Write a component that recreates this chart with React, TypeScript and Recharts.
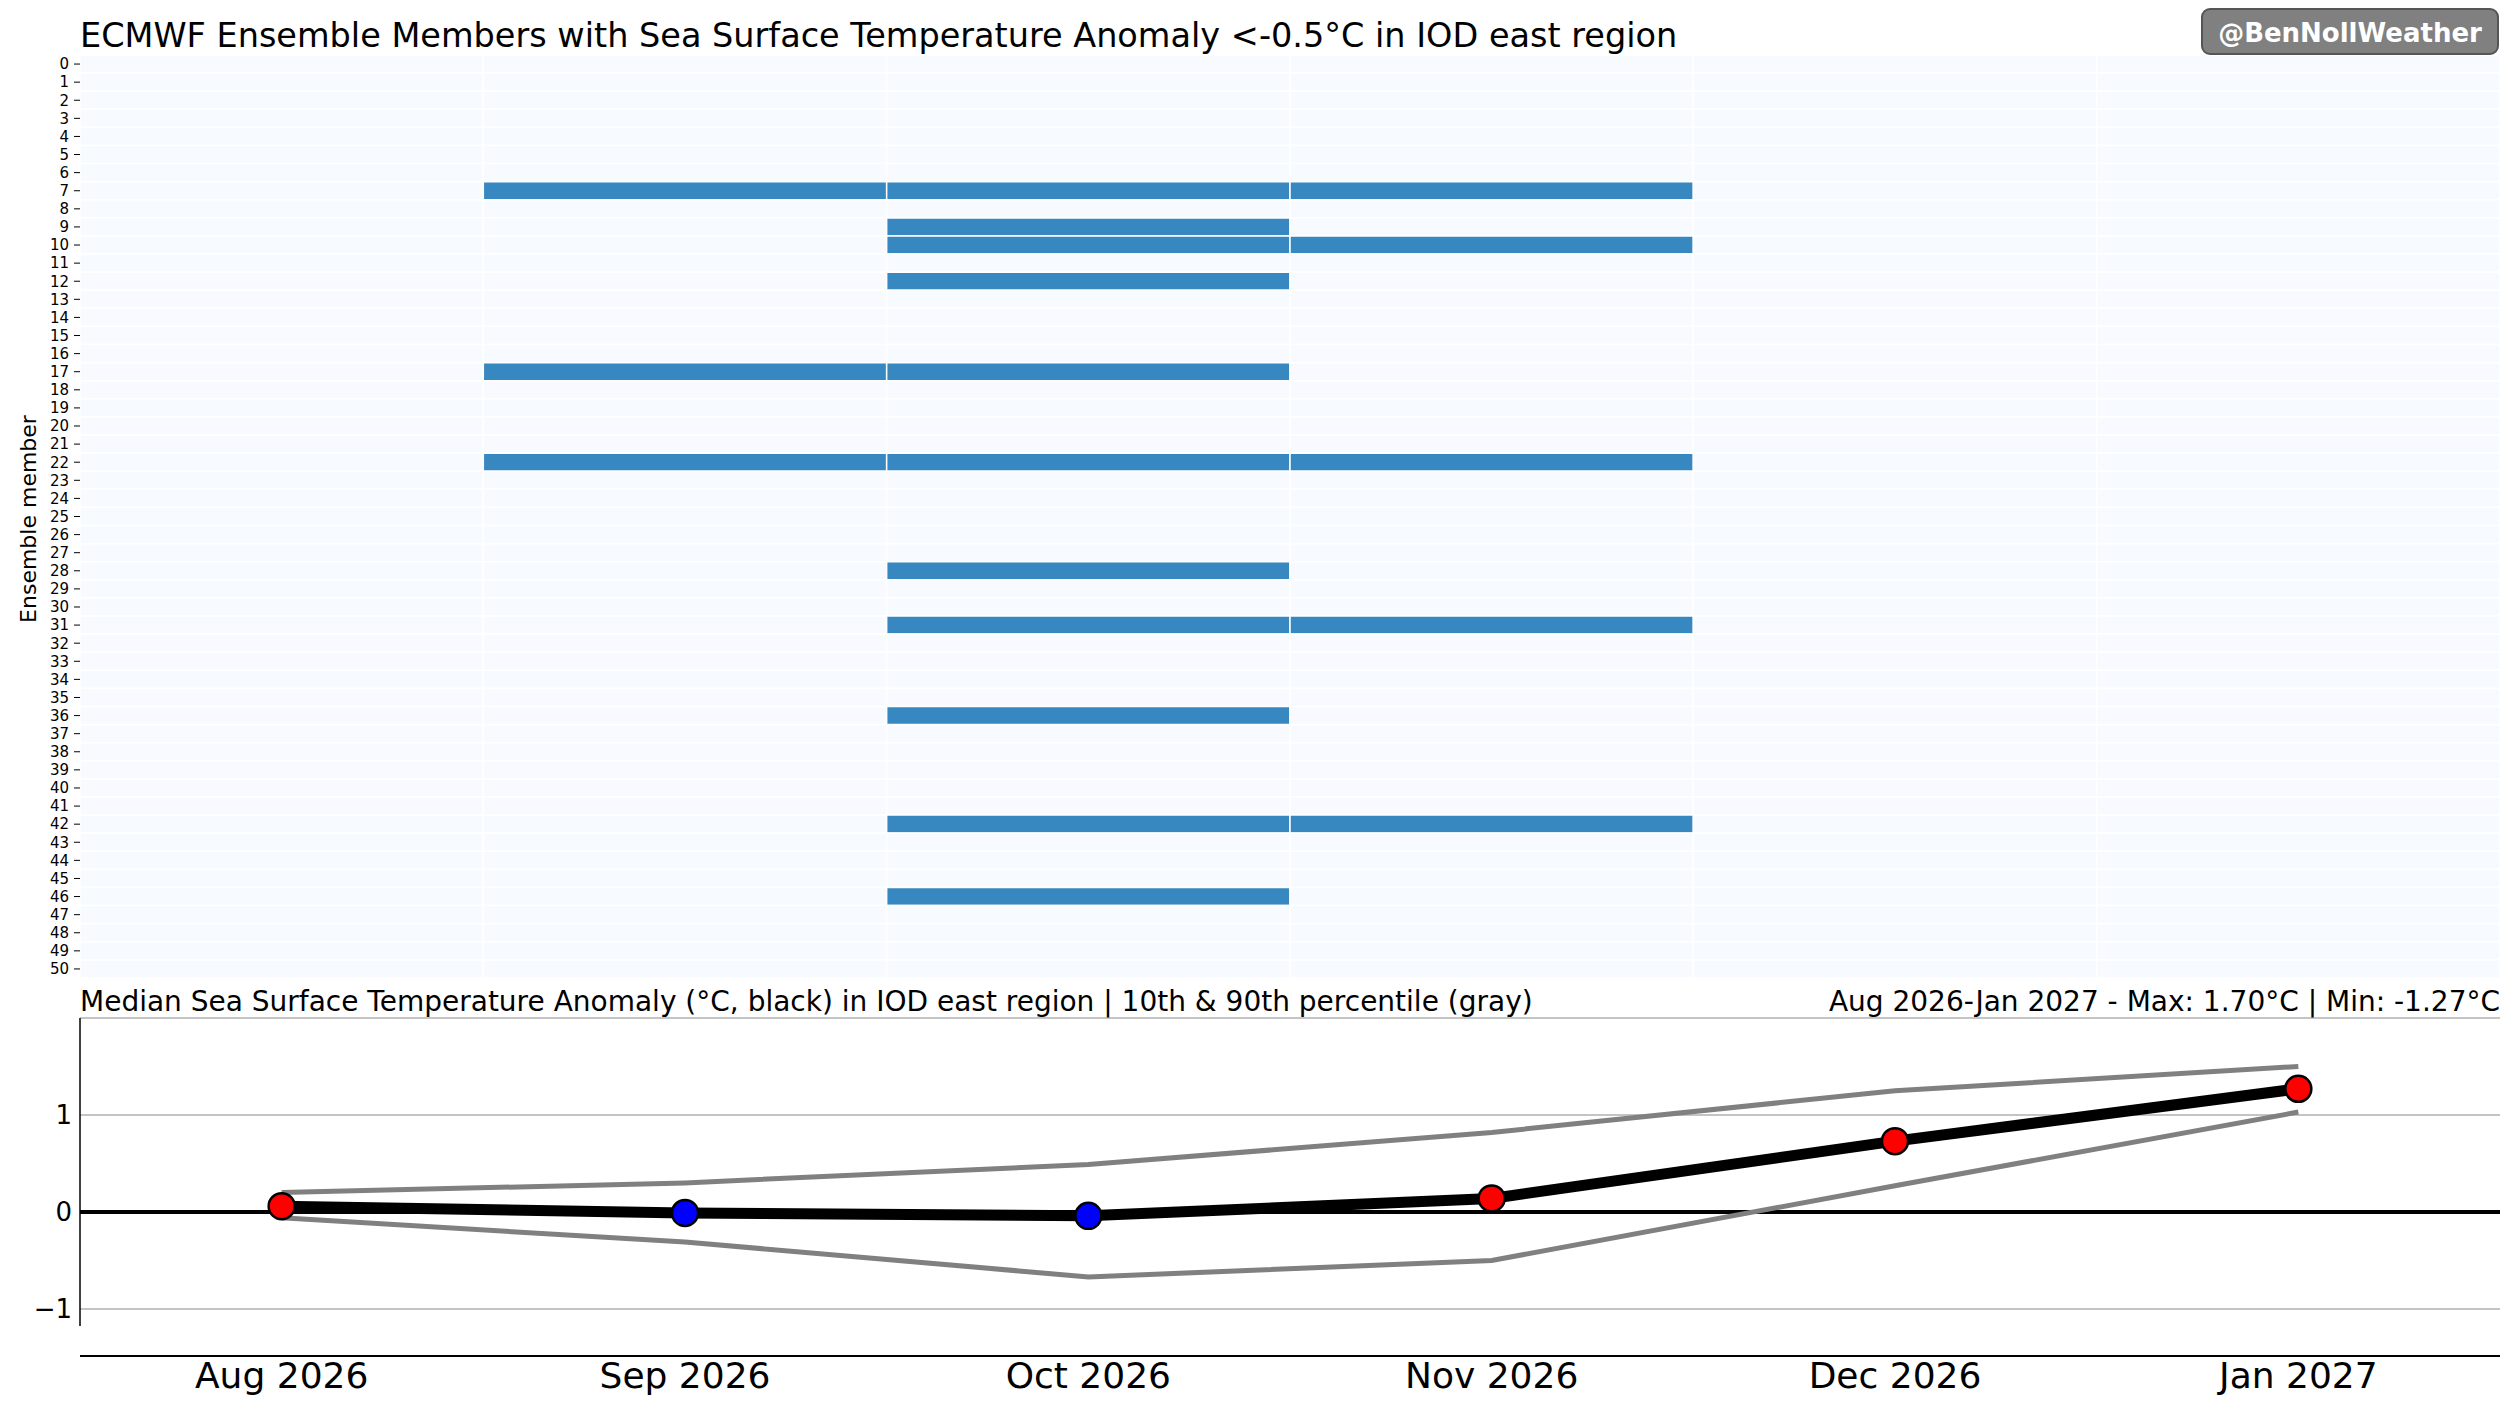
import React from "react";
import {
  BarChart,
  Bar,
  Cell,
  XAxis,
  YAxis,
  LineChart,
  Line,
  CartesianGrid,
  ReferenceLine,
} from "recharts";

// ---- data ----
const months = ["Aug 2026", "Sep 2026", "Oct 2026", "Nov 2026", "Dec 2026", "Jan 2027"];
const memberIds = Array.from({ length: 51 }, (_, i) => i);

// members with anomaly < -0.5°C per month
const belowAug: number[] = [];
const belowSep = [7, 17, 22];
const belowOct = [7, 9, 10, 12, 17, 22, 28, 31, 36, 42, 46];
const belowNov = [7, 10, 22, 31, 42];
const belowDec: number[] = [];
const belowJan: number[] = [];
const belowByMonth = [belowAug, belowSep, belowOct, belowNov, belowDec, belowJan];

const medianVals = [0.06, -0.01, -0.04, 0.14, 0.73, 1.27];
const p10Vals = [-0.06, -0.31, -0.67, -0.5, 0.27, 1.03];
const p90Vals = [0.2, 0.3, 0.49, 0.82, 1.25, 1.5];
const yTicks = [-1, 0, 1];

// ---- derived tables ----
const heatData = memberIds.map((m) => {
  const row: any = { member: m };
  months.forEach((_, j) => {
    row[`m${j}`] = 1;
  });
  return row;
});

const lineData = months.map((label, i) => ({
  x: i,
  label,
  median: medianVals[i],
  p10: p10Vals[i],
  p90: p90Vals[i],
}));

const FONT = "DejaVu Sans";
const BLUE = "#3787c0";
const LIGHT = "#f7fbff";

const MedianDot = (props: any) => {
  const { cx, cy, value, index } = props;
  if (cx == null || cy == null) return <g key={`d${index}`} />;
  return (
    <circle
      key={`d${index}`}
      cx={cx}
      cy={cy}
      r={13}
      fill={value > 0 ? "#ff0000" : "#0000ff"}
      stroke="#000"
      strokeWidth={2.5}
    />
  );
};

export default function App() {
  return (
    <div
      style={{
        position: "absolute",
        left: 0,
        top: 0,
        width: 2506,
        height: 1413,
        background: "#fff",
        fontFamily: FONT,
        overflow: "hidden",
      }}
    >
      {/* Heatmap */}
      <div style={{ position: "absolute", left: 0, top: 0 }}>
        <BarChart
          width={2506}
          height={1000}
          data={heatData}
          layout="vertical"
          margin={{ top: 55, right: 6, left: 0, bottom: 0 }}
          barCategoryGap={0}
          barGap={0}
        >
          <XAxis
            type="number"
            domain={[0, 6]}
            ticks={[0.5, 1.5, 2.5, 3.5, 4.5, 5.5]}
            tick={false}
            tickLine={{ stroke: "#000", strokeWidth: 1.2 }}
            tickSize={12}
            axisLine={false}
            height={22}
            allowDataOverflow
          />
          <YAxis
            type="category"
            dataKey="member"
            width={80}
            interval={0}
            tick={{ fontSize: 15, fill: "#000", fontFamily: FONT }}
            tickLine={{ stroke: "#000", strokeWidth: 1 }}
            tickSize={6}
            tickMargin={5}
            axisLine={false}
          />
          {months.map((_, j) => (
            <Bar
              key={j}
              dataKey={`m${j}`}
              stackId="a"
              isAnimationActive={false}
              stroke="#ffffff"
              strokeWidth={1.5}
            >
              {memberIds.map((m) => (
                <Cell key={m} fill={belowByMonth[j].includes(m) ? BLUE : LIGHT} />
              ))}
            </Bar>
          ))}
        </BarChart>
      </div>

      {/* Median line chart */}
      <div style={{ position: "absolute", left: 0, top: 950 }}>
        <LineChart
          width={2506}
          height={463}
          data={lineData}
          margin={{ top: 68, right: 6, left: 0, bottom: 0 }}
        >
          <CartesianGrid horizontal vertical={false} stroke="#b0b0b0" strokeWidth={1.5} />
          <XAxis
            type="number"
            dataKey="x"
            domain={[-0.5, 5.5]}
            ticks={[0, 1, 2, 3, 4, 5]}
            tickFormatter={(v: number) => months[v]}
            tick={{ fontSize: 36, fill: "#000", fontFamily: FONT }}
            tickLine={false}
            tickSize={0}
            tickMargin={6}
            axisLine={{ stroke: "#000", strokeWidth: 2 }}
            height={57}
            allowDataOverflow
          />
          <YAxis
            type="number"
            domain={[-1.485, 2.0]}
            ticks={yTicks}
            tickFormatter={(v: number) => (v < 0 ? `\u2212${Math.abs(v)}` : `${v}`)}
            tick={{ fontSize: 26, fill: "#000", fontFamily: FONT }}
            tickLine={false}
            tickSize={0}
            tickMargin={8}
            axisLine={false}
            width={80}
            allowDataOverflow
          />
          <ReferenceLine
            segment={[
              { x: -0.5, y: -1.175 },
              { x: -0.5, y: 2.0 },
            ]}
            stroke="#000"
            strokeWidth={1.5}
            ifOverflow="visible"
          />
          <ReferenceLine y={0} stroke="#000" strokeWidth={4} />
          <Line
            type="linear"
            dataKey="p90"
            stroke="#808080"
            strokeWidth={5}
            dot={false}
            isAnimationActive={false}
          />
          <Line
            type="linear"
            dataKey="p10"
            stroke="#808080"
            strokeWidth={5}
            dot={false}
            isAnimationActive={false}
          />
          <Line
            type="linear"
            dataKey="median"
            stroke="#000"
            strokeWidth={11}
            dot={MedianDot}
            activeDot={false}
            isAnimationActive={false}
          />
        </LineChart>
      </div>

      {/* Texts */}
      <svg
        width={2506}
        height={1413}
        style={{ position: "absolute", left: 0, top: 0, pointerEvents: "none" }}
        fontFamily={FONT}
      >
        <text x={80} y={47} fontSize={33.5} fill="#000">
          ECMWF Ensemble Members with Sea Surface Temperature Anomaly &lt;-0.5°C in IOD east region
        </text>
        <text
          x={28}
          y={519}
          fontSize={22}
          fill="#000"
          textAnchor="middle"
          dominantBaseline="central"
          transform="rotate(-90 28 519)"
        >
          Ensemble member
        </text>
        <text x={80} y={1011} fontSize={28} fill="#000">
          Median Sea Surface Temperature Anomaly (°C, black) in IOD east region | 10th &amp; 90th percentile (gray)
        </text>
        <text x={2500} y={1011} fontSize={28} fill="#000" textAnchor="end">
          Aug 2026-Jan 2027 - Max: 1.70°C | Min: -1.27°C
        </text>
        <rect x={2202} y={9} width={296} height={45} rx={8} fill="#808080" stroke="#555" strokeWidth={2} />
        <text
          x={2350}
          y={42}
          fontSize={26}
          fontWeight="bold"
          fill="#fff"
          textAnchor="middle"
        >
          @BenNollWeather
        </text>
      </svg>
    </div>
  );
}
